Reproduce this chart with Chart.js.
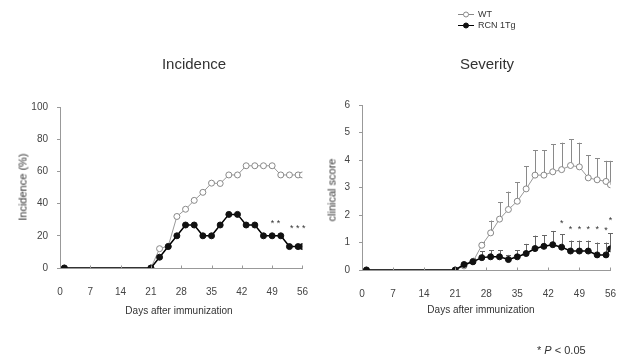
<!DOCTYPE html>
<html><head><meta charset="utf-8">
<script src="https://cdn.jsdelivr.net/npm/chart.js@4/dist/chart.umd.min.js"></script>
<style>
html,body{margin:0;padding:0;background:#fff;}
body{width:626px;height:359px;position:relative;overflow:hidden;font-family:"Liberation Sans",Arial,sans-serif;}
.c{position:absolute;top:0;}
.t{position:absolute;color:#333;white-space:nowrap;line-height:1;}
.ctr{transform:translate(-50%,-50%);}
.rot{transform:translate(-50%,-50%) rotate(-90deg);}
</style></head><body>
<canvas id="c1" class="c" style="left:0" width="318" height="359"></canvas>
<canvas id="c2" class="c" style="left:318px" width="308" height="359"></canvas>
<div class="t ctr" style="left:194px;top:63px;font-size:15px">Incidence</div>
<div class="t ctr" style="left:487px;top:63px;font-size:15px">Severity</div>
<div class="t rot" style="left:23px;top:187px;font-size:11px">Incidence (%)</div>
<div class="t rot" style="left:332px;top:190px;font-size:11px">clinical score</div>
<div class="t ctr" style="left:179px;top:311px;font-size:10px">Days after immunization</div>
<div class="t ctr" style="left:481px;top:310px;font-size:10px">Days after immunization</div>
<div class="t" style="left:537px;top:345px;font-size:11px">* <i>P</i> &lt; 0.05</div>
<script>
// ---- data ----
const days = [1, 21, 23, 25, 27, 29, 31, 33, 35, 37, 39, 41, 43, 45, 47, 49, 51, 53, 55, 56];
const dayTicks = [0, 7, 14, 21, 28, 35, 42, 49, 56];
const incidenceTicks = [0, 20, 40, 60, 80, 100];
const severityTicks = [0, 1, 2, 3, 4, 5, 6];
const seriesNames = ["WT", "RCN 1Tg"];

const incidenceWT = [0, 0, 12, 13.5, 32, 36.5, 42, 47, 52.7, 52.5, 57.8, 57.8, 63.5, 63.5, 63.5, 63.5, 57.8, 57.8, 57.8, 57.8];
const incidenceTg = [0, 0, 6.7, 13.3, 20, 26.7, 26.7, 20, 20, 26.7, 33.3, 33.3, 26.7, 26.7, 20, 20, 20, 13.3, 13.3, 13.3];

const severityWT = [0, 0, 0.15, 0.3, 0.9, 1.35, 1.85, 2.2, 2.5, 2.95, 3.45, 3.45, 3.57, 3.65, 3.8, 3.75, 3.35, 3.28, 3.22, 3.1];
const severityWTerr = [0, 0, 0.1, 0.15, 0.12, 0.45, 0.62, 0.65, 0.7, 0.82, 0.91, 0.9, 1.0, 0.98, 0.95, 0.88, 0.83, 0.78, 0.75, 0.87];
const severityTg = [0, 0, 0.2, 0.3, 0.45, 0.48, 0.48, 0.38, 0.48, 0.6, 0.78, 0.86, 0.92, 0.83, 0.69, 0.69, 0.69, 0.55, 0.55, 0.77];
const severityTgerr = [0, 0, 0.05, 0.1, 0.24, 0.24, 0.24, 0.17, 0.24, 0.35, 0.47, 0.41, 0.5, 0.47, 0.38, 0.38, 0.38, 0.45, 0.45, 0.56];

const incStarDays = [49.8, 54.9];
const incStarVals = [29, 25.6];
const incStarText = ["* *", "* * *"];
const sevStarDays = [45, 47, 49, 51, 53, 55, 56];
const sevStarVals = [1.78, 1.55, 1.55, 1.55, 1.55, 1.5, 1.87];
const sevStarText = ["*", "*", "*", "*", "*", "*", "*"];

// ---- helpers ----
const FAM = '"Liberation Sans", Arial, sans-serif';
const pts = (ys) => days.map((d, i) => ({x: d, y: ys[i]}));

const innerXTicks = {
  id: 'innerXTicks',
  afterDraw(chart) {
    const {ctx, scales: {x, y}} = chart;
    ctx.save();
    ctx.strokeStyle = '#999'; ctx.lineWidth = 1;
    const yb = Math.round(y.getPixelForValue(0)) + 0.5;
    dayTicks.forEach(v => {
      const px = Math.round(x.getPixelForValue(v)) + 0.5;
      ctx.beginPath(); ctx.moveTo(px, yb); ctx.lineTo(px, yb - 3); ctx.stroke();
    });
    ctx.restore();
  }
};
const errBars = {
  id: 'errBars',
  beforeDatasetsDraw(chart, args, opts) {
    if (!opts.sets) return;
    const {ctx, scales: {x, y}} = chart;
    ctx.save(); ctx.lineWidth = 1;
    opts.sets.forEach(s => {
      ctx.strokeStyle = s.color;
      s.mean.forEach((m, i) => {
        if (!s.err[i]) return;
        const px = Math.round(x.getPixelForValue(days[i])) + 0.5;
        const y0 = y.getPixelForValue(m), y1 = y.getPixelForValue(m + s.err[i]);
        ctx.beginPath(); ctx.moveTo(px, y0); ctx.lineTo(px, y1);
        ctx.moveTo(px - 2.5, Math.round(y1) + 0.5); ctx.lineTo(px + 2.5, Math.round(y1) + 0.5); ctx.stroke();
      });
    });
    ctx.restore();
  }
};
const stars = {
  id: 'stars',
  afterDatasetsDraw(chart, args, opts) {
    if (!opts.d) return;
    const {ctx, scales: {x, y}} = chart;
    ctx.save(); ctx.fillStyle = '#333'; ctx.font = '9px ' + FAM;
    ctx.textAlign = 'center'; ctx.textBaseline = 'middle';
    opts.d.forEach((d, i) => ctx.fillText(opts.t[i], x.getPixelForValue(d), y.getPixelForValue(opts.v[i]) + 2));
    ctx.restore();
  }
};
const legendPl = {
  id: 'legendPl',
  afterDraw(chart, args, opts) {
    if (!opts.show) return;
    const ctx = chart.ctx;
    ctx.save();
    const rows = [
      {y: 14, line: '#888', fill: '#fff', stroke: '#888', text: seriesNames[0]},
      {y: 25, line: '#000', fill: '#111', stroke: '#111', text: seriesNames[1]}
    ];
    rows.forEach(r => {
      ctx.strokeStyle = r.line; ctx.lineWidth = 1;
      ctx.beginPath(); ctx.moveTo(140, r.y + 0.5); ctx.lineTo(156, r.y + 0.5); ctx.stroke();
      ctx.beginPath(); ctx.arc(148, r.y + 0.5, 2.5, 0, Math.PI * 2);
      ctx.fillStyle = r.fill; ctx.fill(); ctx.strokeStyle = r.stroke; ctx.stroke();
      ctx.fillStyle = '#333'; ctx.font = '9px ' + FAM; ctx.textAlign = 'left'; ctx.textBaseline = 'middle';
      ctx.fillText(r.text, 160, r.y + 1);
    });
    ctx.restore();
  }
};

function opts(c) {
  return {
    responsive: false, animation: false, devicePixelRatio: 1,
    layout: {padding: {left: c.padL, right: c.padR, top: c.padT, bottom: 0}},
    plugins: {legend: {display: false}, tooltip: {enabled: false}, title: {display: false},
      errBars: c.errBars || {}, stars: c.stars, legendPl: {show: !!c.legend}},
    scales: {
      x: {type: 'linear', min: 0, max: 56,
        afterBuildTicks: s => { s.ticks = dayTicks.map(v => ({value: v})); },
        afterFit: s => { s.height = c.xH; },
        grid: {display: false}, border: {display: true, color: '#999', width: 1},
        ticks: {padding: 10, color: '#444', font: {size: 10, family: FAM}, autoSkip: false, maxRotation: 0}},
      y: {type: 'linear', min: 0, max: c.yTicks[c.yTicks.length - 1],
        afterBuildTicks: s => { s.ticks = c.yTicks.map(v => ({value: v})); },
        afterFit: s => { s.width = c.yW; },
        grid: {display: true, drawOnChartArea: false, drawTicks: true, tickLength: 3, color: '#999'},
        border: {display: true, color: '#999', width: 1},
        ticks: {padding: 9, color: '#444', font: {size: 10, family: FAM}}}
    }
  };
}
function ds(label, data, dark) {
  return dark ? {label, data, borderColor: '#000', borderWidth: 1.5, pointRadius: 3,
      pointBackgroundColor: '#111', pointBorderColor: '#111', pointBorderWidth: 1, tension: 0}
    : {label, data, borderColor: '#999', borderWidth: 1, pointRadius: 3,
      pointBackgroundColor: '#fff', pointBorderColor: '#888', pointBorderWidth: 1, tension: 0};
}

new Chart(document.getElementById('c1'), {
  type: 'line',
  data: {datasets: [ds(seriesNames[1], pts(incidenceTg), true), ds(seriesNames[0], pts(incidenceWT), false)]},
  options: opts({padL: 30, yW: 30, padR: 13, padT: 107, xH: 91, yTicks: incidenceTicks,
    stars: {d: incStarDays, v: incStarVals, t: incStarText}}),
  plugins: [innerXTicks, stars, errBars, legendPl]
});
new Chart(document.getElementById('c2'), {
  type: 'line',
  data: {datasets: [ds(seriesNames[1], pts(severityTg), true), ds(seriesNames[0], pts(severityWT), false)]},
  options: opts({padL: 14, yW: 30, padR: 13, padT: 105, xH: 89, yTicks: severityTicks, legend: true,
    stars: {d: sevStarDays, v: sevStarVals, t: sevStarText},
    errBars: {sets: [{mean: severityWT, err: severityWTerr, color: '#8a8a8a'}, {mean: severityTg, err: severityTgerr, color: '#666'}]}}),
  plugins: [innerXTicks, stars, errBars, legendPl]
});
</script>
</body></html>
